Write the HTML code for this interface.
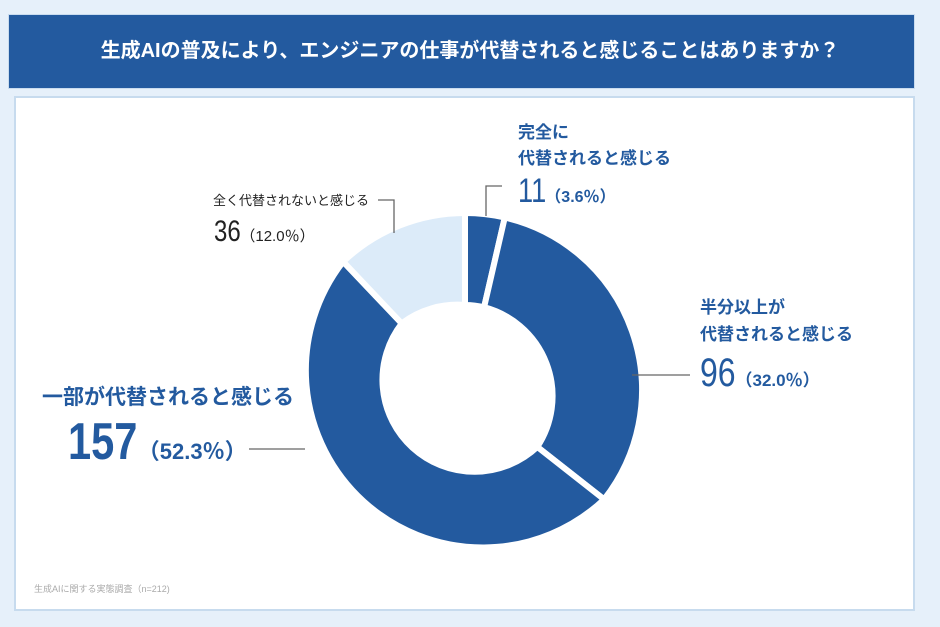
<!DOCTYPE html>
<html><head><meta charset="utf-8"><style>
body{margin:0;width:940px;height:627px;background:#e6f0fa;position:relative;overflow:hidden;font-family:"Liberation Sans","Noto Sans CJK JP",sans-serif}
.t{position:absolute;white-space:nowrap;line-height:1}
.b{color:#235a9f;font-weight:bold}
.n{display:inline-block;transform:scaleX(.8);transform-origin:left}
</style></head><body>
<div style="position:absolute;left:8px;top:14px;width:907px;height:75px;background:#235a9f;border:1px solid #c9dcef;box-sizing:border-box"></div>
<div class="t" style="left:0;width:940px;text-align:center;top:41px;font-size:20px;font-weight:bold;color:#fff">生成AIの普及により、エンジニアの仕事が代替されると感じることはありますか？</div>
<div style="position:absolute;left:14px;top:96px;width:901px;height:515px;background:#fff;border:2px solid #c7dbee;box-sizing:border-box"></div>
<svg style="position:absolute;left:0;top:0" width="940" height="627">
<g stroke="#fff" stroke-width="6" stroke-linejoin="miter">
<path d="M465,213 A177,177 0 0 1 504.8,217.5 L484.1,307.2 A92,92 0 0 0 465,305 Z" fill="#235a9f"/>
<path d="M504.8,217.5 A177,177 0 0 1 604.1,499.4 L537.3,446.9 A92,92 0 0 0 484.1,307.2 Z" fill="#235a9f"/>
<path d="M604.1,499.4 A177,177 0 0 1 343.2,261.7 L401.7,323.4 A92,92 0 0 0 537.3,446.9 Z" fill="#235a9f"/>
<path d="M343.2,261.7 A177,177 0 0 1 465,213 L465,305 A92,92 0 0 0 401.7,323.4 Z" fill="#dcebf9"/>
</g>
<g stroke="#666" stroke-width="1.3" fill="none">
<polyline points="502,186 486,186 486,216"/>
<polyline points="378,200 394,200 394,233"/>
<line x1="632" y1="375" x2="690" y2="375"/>
<line x1="249" y1="449" x2="305" y2="449"/>
</g>
</svg>
<div class="t b" style="left:518px;top:124px;font-size:17px">完全に</div>
<div class="t b" style="left:518px;top:150px;font-size:17px">代替されると感じる</div>
<div class="t b" style="left:518px;top:174px;font-size:34px;font-weight:normal"><span class="n" style="margin-right:-8px">11</span><span style="font-size:16px;font-weight:bold">（3.6％）</span></div>
<div class="t" style="left:213px;top:194px;font-size:13px;color:#222">全く代替されないと感じる</div>
<div class="t" style="left:214px;top:217px;font-size:30px;color:#222"><span class="n" style="margin-right:-7px">36</span><span style="font-size:15px">（12.0％）</span></div>
<div class="t b" style="left:700px;top:299px;font-size:17px">半分以上が</div>
<div class="t b" style="left:700px;top:326px;font-size:17px">代替されると感じる</div>
<div class="t b" style="left:700px;top:353px;font-size:40px;font-weight:normal"><span class="n" style="margin-right:-9px">96</span><span style="font-size:17px;font-weight:bold">（32.0％）</span></div>
<div class="t b" style="left:42px;top:387px;font-size:21px">一部が代替されると感じる</div>
<div class="t b" style="left:68px;top:416px;font-size:52px"><span class="n" style="margin-right:-17px">157</span><span style="font-size:22px">（52.3％）</span></div>
<div class="t" style="left:34px;top:585px;font-size:9px;color:#aaa">生成AIに関する実態調査（n=212)</div>
</body></html>
